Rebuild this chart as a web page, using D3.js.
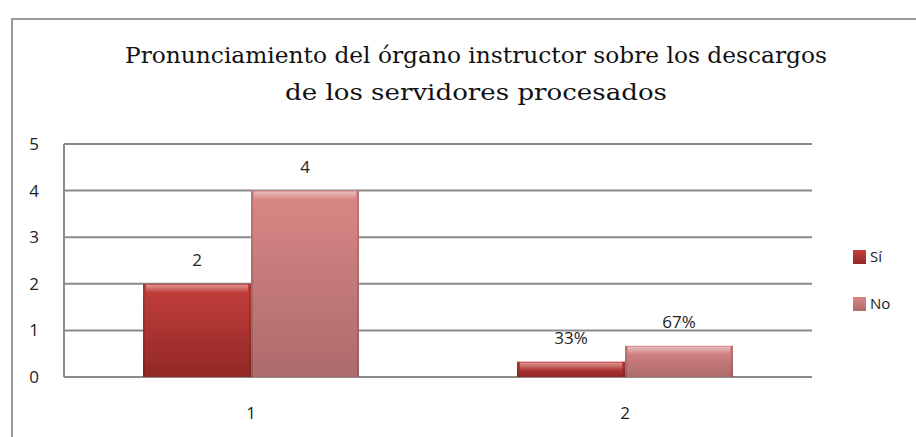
<!DOCTYPE html>
<html>
<head>
<meta charset="utf-8">
<script src="https://cdn.jsdelivr.net/npm/d3@7"></script>
<style>
  body { margin: 0; background: #fff; }
  svg text { font-family: "Open Sans", "Liberation Sans", sans-serif; fill: #222; }
</style>
</head>
<body>
<div id="chart"></div>
<script>
// data
const categories = ["1", "2"];
const series_names = ["Sí", "No"];
const si_values = [2, 0.33];
const no_values = [4, 0.67];
const si_labels = ["2", "33%"];
const no_labels = ["4", "67%"];
const y_ticks = [0, 1, 2, 3, 4, 5];
const title_lines = ["Pronunciamiento del órgano instructor sobre los descargos", "de los servidores procesados"];

const w = 916, h = 437;
const margin = { top: 144, right: 104, bottom: 60, left: 64 };

const svg = d3.select("#chart").append("svg")
  .attr("width", w).attr("height", h)
  .attr("viewBox", [0, 0, w, h]);

// gradients for the Excel-ish bevelled bars
const defs = svg.append("defs");
function grad(id, stops) {
  let g = defs.append("linearGradient").attr("id", id)
    .attr("x1", 0).attr("y1", 0).attr("x2", 0).attr("y2", 1);
  stops.forEach(s => g.append("stop").attr("offset", s[0]).attr("stop-color", s[1]).attr("stop-opacity", s[2] == null ? 1 : s[2]));
}
grad("g_si", [["0%", "#c43f3c"], ["100%", "#922826"]]);
grad("g_no", [["0%", "#d98786"], ["100%", "#ad6b6b"]]);
grad("g_hi", [["0%", "#ffffff", 0.45], ["100%", "#ffffff", 0]]);
const fills = ["url(#g_si)", "url(#g_no)"];

// outer frame (runs off the right and bottom of the picture)
svg.append("rect").attr("x", 12).attr("y", 19).attr("width", w + 20).attr("height", h + 20)
  .attr("fill", "none").attr("stroke", "#9a9a9a").attr("stroke-width", 2);

// title
svg.append("g").selectAll("text").data(title_lines).enter().append("text")
  .attr("x", 476).attr("y", (d, i) => 63 + i * 37)
  .attr("text-anchor", "middle")
  .style("font-family", "'DejaVu Serif', 'Liberation Serif', serif")
  .style("font-size", "23px")
  .style("fill", "#111")
  .attr("textLength", (d, i) => i == 0 ? 702 : 382)
  .attr("lengthAdjust", "spacingAndGlyphs")
  .text(d => d);

const x = d3.scaleBand().domain(categories).range([margin.left, w - margin.right]);
const y = d3.scaleLinear().domain([0, 5]).range([377, 144]);

const bw = 108;

// gridlines
svg.append("g").selectAll("line").data(y_ticks).enter().append("line")
  .attr("x1", margin.left).attr("x2", w - margin.right)
  .attr("y1", d => y(d)).attr("y2", d => y(d))
  .attr("stroke", "#8a8a8a").attr("stroke-width", 2);
svg.append("line").attr("x1", margin.left).attr("x2", margin.left)
  .attr("y1", y(5)).attr("y2", y(0)).attr("stroke", "#8a8a8a").attr("stroke-width", 2);

// y tick labels
svg.append("g").selectAll("text").data(y_ticks).enter().append("text")
  .attr("x", 34).attr("y", d => y(d) + 6)
  .attr("text-anchor", "middle").style("font-size", "17px")
  .text(d => d);

// x labels
svg.append("g").selectAll("text").data(categories).enter().append("text")
  .attr("x", d => x(d) + x.bandwidth() / 2).attr("y", 419)
  .attr("text-anchor", "middle").style("font-size", "17px")
  .text(d => d);

// bars
const rows = [];
categories.forEach((c, i) => {
  rows.push({ c: c, s: 0, v: si_values[i], lab: si_labels[i] });
  rows.push({ c: c, s: 1, v: no_values[i], lab: no_labels[i] });
});
const bx = d => x(d.c) + x.bandwidth() / 2 + (d.s == 0 ? -bw : 0);

const bars = svg.append("g").selectAll("g").data(rows).enter().append("g");
bars.append("rect")
  .attr("x", bx).attr("y", d => y(d.v))
  .attr("width", bw).attr("height", d => y(0) - y(d.v))
  .attr("fill", d => fills[d.s]);
// bevel highlight on top edge
bars.append("rect")
  .attr("x", d => bx(d) + 3).attr("y", d => y(d.v) + 1)
  .attr("width", bw - 6).attr("height", d => Math.min(8, y(0) - y(d.v) - 2))
  .attr("fill", "url(#g_hi)");
// darker sides
bars.append("rect")
  .attr("x", bx).attr("y", d => y(d.v))
  .attr("width", 2).attr("height", d => y(0) - y(d.v))
  .attr("fill", "#000").attr("opacity", 0.12);
bars.append("rect")
  .attr("x", d => bx(d) + bw - 2).attr("y", d => y(d.v))
  .attr("width", 2).attr("height", d => y(0) - y(d.v))
  .attr("fill", "#000").attr("opacity", 0.12);

// value labels
bars.append("text")
  .attr("x", d => bx(d) + bw / 2)
  .attr("y", d => y(d.v) - 18)
  .attr("text-anchor", "middle").style("font-size", "17px")
  .text(d => d.lab);

// legend
const leg = svg.append("g").selectAll("g").data(series_names).enter().append("g")
  .attr("transform", (d, i) => `translate(853, ${250 + i * 47})`);
leg.append("rect").attr("width", 13).attr("height", 14)
  .attr("fill", (d, i) => fills[i]);
leg.append("text").attr("x", 17).attr("y", 12).style("font-size", "15px").text(d => d);
</script>
</body>
</html>
